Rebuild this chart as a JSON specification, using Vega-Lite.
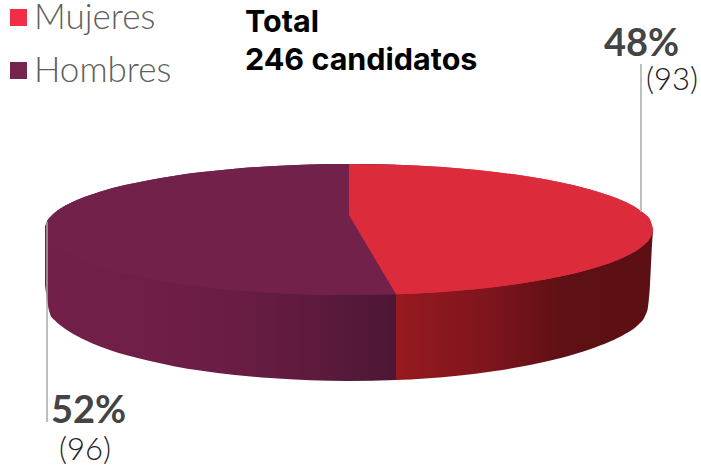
{"$schema":"https://vega.github.io/schema/vega-lite/v6.json","width":701,"height":468,"padding":0,"autosize":{"type":"fit","contains":"padding"},"background":"white","config":{"view":{"stroke":null}},
"datasets":{
"caras":[
{"genero":"Hombres","x":45,"y":227,"y2":229},{"genero":"Hombres","x":47,"y":221.5,"y2":236.6},{"genero":"Hombres","x":50,"y":217.3,"y2":240.9},{"genero":"Hombres","x":55,"y":212.5,"y2":245.8},{"genero":"Hombres","x":60,"y":208.8,"y2":249.5},{"genero":"Hombres","x":70,"y":203.2,"y2":255.2},{"genero":"Hombres","x":85,"y":196.8,"y2":261.7},{"genero":"Hombres","x":100,"y":191.7,"y2":266.9},{"genero":"Hombres","x":125,"y":185.1,"y2":273.6},{"genero":"Hombres","x":150,"y":179.9,"y2":278.9},{"genero":"Hombres","x":175,"y":175.7,"y2":283.1},{"genero":"Hombres","x":200,"y":172.3,"y2":286.5},{"genero":"Hombres","x":235,"y":168.7,"y2":290.2},{"genero":"Hombres","x":270,"y":166.2,"y2":292.7},{"genero":"Hombres","x":310,"y":164.5,"y2":294.5},{"genero":"Hombres","x":348,"y":164,"y2":295},{"genero":"Hombres","x":372.5,"y":164.2,"y2":294.8},{"genero":"Hombres","x":396,"y":164.8,"y2":294.2},
{"genero":"Mujeres","x":396,"y":164.8,"y2":294.2},{"genero":"Mujeres","x":425,"y":166.1,"y2":292.9},{"genero":"Mujeres","x":460,"y":168.5,"y2":290.4},{"genero":"Mujeres","x":495,"y":172,"y2":286.9},{"genero":"Mujeres","x":530,"y":176.8,"y2":282},{"genero":"Mujeres","x":560,"y":182.2,"y2":276.5},{"genero":"Mujeres","x":590,"y":189.4,"y2":269.2},{"genero":"Mujeres","x":610,"y":195.7,"y2":262.9},{"genero":"Mujeres","x":625,"y":201.8,"y2":256.7},{"genero":"Mujeres","x":638,"y":208.9,"y2":249.5},{"genero":"Mujeres","x":645,"y":214.2,"y2":244},{"genero":"Mujeres","x":650,"y":219.8,"y2":238.3},{"genero":"Mujeres","x":653,"y":229,"y2":231}],
"cuna":[{"x":349,"y":164,"y2":215},{"x":396,"y":164.8,"y2":294.2}],
"costadoH":[{"x":45,"y":227,"y2":285},{"x":47,"y":232,"y2":300},{"x":50,"y":237,"y2":314},{"x":55,"y":242,"y2":320.6},{"x":60,"y":246,"y2":325},{"x":70,"y":252,"y2":332},{"x":85,"y":258,"y2":340},{"x":100,"y":263,"y2":346.5},{"x":125,"y":270,"y2":354.8},{"x":150,"y":275,"y2":361},{"x":175,"y":280,"y2":366.4},{"x":200,"y":283,"y2":370.6},{"x":235,"y":287,"y2":375},{"x":270,"y":289,"y2":378},{"x":310,"y":291,"y2":380.3},{"x":348,"y":292,"y2":381},{"x":396,"y":291,"y2":380}],
"costadoM":[{"x":396,"y":291,"y2":380},{"x":425,"y":290,"y2":378.4},{"x":460,"y":287,"y2":375.4},{"x":495,"y":284,"y2":371},{"x":530,"y":279,"y2":365},{"x":560,"y":273,"y2":358.3},{"x":590,"y":266,"y2":349.3},{"x":610,"y":260,"y2":341.6},{"x":625,"y":254,"y2":334},{"x":638,"y":246,"y2":325},{"x":645,"y":240,"y2":316},{"x":648,"y":236,"y2":307},{"x":650,"y":233,"y2":285},{"x":652,"y":231,"y2":245},{"x":653,"y":230,"y2":231}],
"lineas":[{"x":47,"y":222,"y2":422},{"x":641,"y":64,"y2":212}],
"pct":[{"x":604,"y":56,"t":"48%"},{"x":51,"y":423,"t":"52%"}],
"n":[{"x":646,"y":90,"t":"(93)"},{"x":59,"y":460,"t":"(96)"}],
"titulo":[{"x":245,"y":32,"t":"Total"},{"x":245,"y":70,"t":"246 candidatos"}]},
"encoding":{"x":{"field":"x","type":"quantitative","scale":{"domain":[0,701],"nice":false,"zero":false},"axis":null},"y":{"field":"y","type":"quantitative","scale":{"domain":[468,0],"nice":false,"zero":false},"axis":null}},
"layer":[
{"data":{"name":"costadoH"},"mark":{"type":"area","interpolate":"monotone","color":{"gradient":"linear","x1":0,"x2":1,"y1":0,"y2":0,"stops":[{"offset":0,"color":"#72204a"},{"offset":0.5,"color":"#6c1d45"},{"offset":0.8,"color":"#5b1a3b"},{"offset":1,"color":"#4c1734"}]}},"encoding":{"y2":{"field":"y2"}}},
{"data":{"name":"costadoM"},"mark":{"type":"area","interpolate":"monotone","color":{"gradient":"linear","x1":0,"x2":1,"y1":0,"y2":0,"stops":[{"offset":0,"color":"#96191f"},{"offset":0.35,"color":"#7f151d"},{"offset":0.65,"color":"#5e1014"},{"offset":1,"color":"#5c1014"}]}},"encoding":{"y2":{"field":"y2"}}},
{"data":{"name":"caras"},"mark":{"type":"area","interpolate":"monotone"},"encoding":{"y2":{"field":"y2"},"detail":{"field":"genero"},"color":{"field":"genero","type":"nominal","scale":{"domain":["Mujeres","Hombres"],"range":["#F12E45","#762350"]},"legend":{"title":null,"orient":"none","legendX":1,"legendY":0,"padding":0,"symbolType":"square","symbolSize":289,"symbolStrokeWidth":0,"symbolOpacity":1,"labelFontSize":35,"labelFont":"Lato","labelFontWeight":300,"labelColor":"#5f5f5f","labelOffset":-2,"rowPadding":17,"labelLimit":300}}}},
{"data":{"name":"caras"},"transform":[{"filter":"datum.genero==='Hombres'"}],"mark":{"type":"area","interpolate":"monotone","color":"#72214A"},"encoding":{"y2":{"field":"y2"}}},
{"data":{"name":"caras"},"transform":[{"filter":"datum.genero==='Mujeres'"}],"mark":{"type":"area","interpolate":"monotone","color":"#DC2B3A"},"encoding":{"y2":{"field":"y2"}}},
{"data":{"name":"cuna"},"mark":{"type":"area","interpolate":"linear","color":"#DC2B3A"},"encoding":{"y2":{"field":"y2"}}},
{"data":{"name":"lineas"},"mark":{"type":"rule","color":"#aaaaaa","strokeWidth":1.5},"encoding":{"y2":{"field":"y2"}}},
{"data":{"name":"pct"},"mark":{"type":"text","align":"left","baseline":"alphabetic","font":"Lato","fontWeight":"bold","fontSize":38,"color":"#444444"},"encoding":{"text":{"field":"t"}}},
{"data":{"name":"n"},"mark":{"type":"text","align":"left","baseline":"alphabetic","font":"Lato","fontWeight":300,"fontSize":31,"color":"#222222"},"encoding":{"text":{"field":"t"}}},
{"data":{"name":"titulo"},"mark":{"type":"text","align":"left","baseline":"alphabetic","font":"Inter","fontWeight":"bold","fontSize":30.5,"color":"#000000"},"encoding":{"text":{"field":"t"}}}
]}
